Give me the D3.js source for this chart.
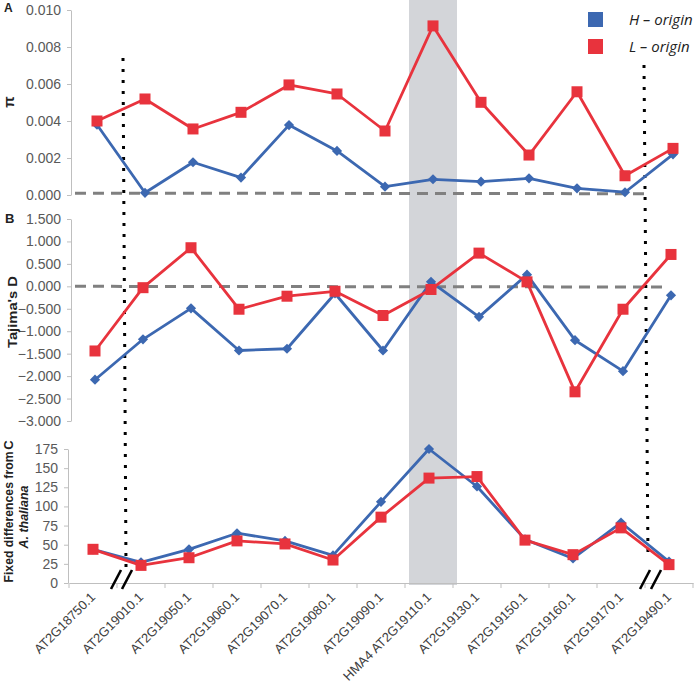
<!DOCTYPE html>
<html><head><meta charset="utf-8">
<script src="https://cdn.jsdelivr.net/npm/d3@7/dist/d3.min.js"></script>
<style>body{margin:0;background:#fff}svg{display:block}</style>
</head><body><svg id="c" width="694" height="682"></svg>
<script>
const categories = ["AT2G18750.1","AT2G19010.1","AT2G19050.1","AT2G19060.1","AT2G19070.1","AT2G19080.1","AT2G19090.1","HMA4 AT2G19110.1","AT2G19130.1","AT2G19150.1","AT2G19160.1","AT2G19170.1","AT2G19490.1"];
const piH = [0.0038,0.00012,0.00177,0.00094,0.00378,0.00238,0.00045,0.00085,0.00072,0.0009,0.00036,0.00015,0.0022];
const piL = [0.0040,0.00519,0.00357,0.00447,0.00595,0.00546,0.00346,0.00914,0.00501,0.00216,0.00558,0.00104,0.00252];
const tajH = [-2.08,-1.18,-0.49,-1.43,-1.39,-0.16,-1.43,0.10,-0.68,0.26,-1.20,-1.89,-0.20];
const tajL = [-1.44,-0.03,0.86,-0.51,-0.22,-0.11,-0.65,-0.07,0.74,0.10,-2.35,-0.51,0.71];
const fixH = [44,27,44,65,55,36,106,175,126,57,32,79,28];
const fixL = [44,23,33,55,51,30,86,137,139,56,37,72,24];
const piTicks = [0,0.002,0.004,0.006,0.008,0.010];
const tajTicks = [-3,-2.5,-2,-1.5,-1,-0.5,0,0.5,1,1.5];
const fixTicks = [0,25,50,75,100,125,150,175];
const seriesNames = ["H \u2013 origin","L \u2013 origin"];

const BLUE="#3c68b1", RED="#e8333d";
const svg = d3.select("#c");
const font = "Liberation Sans, Arial, sans-serif";

const xA = d3.scaleBand().domain(categories).range([73,697]);
const xB = d3.scaleBand().domain(categories).range([71,695]);
const xC = d3.scaleBand().domain(categories).range([69,693]);
const yA = d3.scaleLinear().domain([0,0.010]).range([195,10]);
const yB = d3.scaleLinear().domain([-3,1.5]).range([421,219]);
const yC = d3.scaleLinear().domain([0,175]).range([583,449]);
const bw = xA.bandwidth();
const cx = (x,c)=>x(c)+bw/2;

// grey band
const hma = categories[7];
svg.append("rect").attr("x",xA(hma)).attr("y",0).attr("width",bw).attr("height",585).attr("fill","#d3d5d9");

function yAxis(y, ticks, fmt, xpos){
  const g = svg.append("g").attr("transform",`translate(${xpos},0)`)
    .call(d3.axisLeft(y).tickValues(ticks).tickFormat(fmt).tickSize(4).tickSizeOuter(0).tickPadding(6));
  g.select(".domain").attr("stroke","#bfbfbf");
  g.selectAll(".tick line").attr("stroke","#bfbfbf");
  g.selectAll("text").attr("fill","#595959").style("font-family",font).style("font-size","14px");
}
yAxis(yA, piTicks, d3.format(".3f"), 71);
yAxis(yB, tajTicks, d3.format(".3f"), 71);
yAxis(yC, fixTicks, d3.format("d"), 68);

// x axis for C
const gx = svg.append("g").attr("transform","translate(0,583)")
  .call(d3.axisBottom(xC).tickSize(0).tickFormat(""));
gx.select(".domain").attr("stroke","#bfbfbf");
gx.selectAll(".tick").remove();
const bounds = categories.map(c=>xC(c)).concat([xC(categories[12])+bw]);
svg.append("g").selectAll("line").data(bounds).join("line")
  .attr("x1",d=>d).attr("x2",d=>d).attr("y1",583).attr("y2",588).attr("stroke","#bfbfbf");
svg.append("g").selectAll("text").data(categories).join("text")
  .attr("transform",c=>`translate(${cx(xC,c)+3},598) rotate(-45)`)
  .attr("text-anchor","end").attr("fill","#404040")
  .style("font-family",font).style("font-size","13px").text(d=>d);

// dashed reference lines
svg.append("line").attr("x1",75).attr("x2",645).attr("y1",yA(0.0001)).attr("y2",yA(0.00007))
  .attr("stroke","#808080").attr("stroke-width",3).attr("stroke-dasharray","11,7");
svg.append("line").attr("x1",75).attr("x2",668).attr("y1",yB(0)).attr("y2",yB(-0.015))
  .attr("stroke","#808080").attr("stroke-width",3).attr("stroke-dasharray","11,7");

// dotted vertical lines
function dotted(x1,y1,x2,y2){
  svg.append("line").attr("x1",x1).attr("y1",y1).attr("x2",x2).attr("y2",y2)
   .attr("stroke","#000").attr("stroke-width",3).attr("stroke-dasharray","3,8");
}
dotted(cx(xA,categories[1])-22,58,cx(xC,categories[1])-15,567);
dotted(cx(xA,categories[12])-29,65,cx(xC,categories[12])-21,557);

// break marks
function slash(x){
  svg.append("line").attr("x1",x).attr("y1",589).attr("x2",x+10).attr("y2",570)
    .attr("stroke","#000").attr("stroke-width",2.6);
}
slash(111); slash(122); slash(640); slash(651);

// series
function series(x,y,vals,color,marker){
  const line = d3.line().x((d,i)=>cx(x,categories[i])).y(d=>y(d));
  svg.append("path").datum(vals).attr("d",line).attr("fill","none")
    .attr("stroke",color).attr("stroke-width",2.8).attr("stroke-linejoin","round");
  const g = svg.append("g");
  if(marker==="sq"){
    g.selectAll("rect").data(vals).join("rect")
      .attr("x",(d,i)=>cx(x,categories[i])-5.5).attr("y",d=>y(d)-5.5)
      .attr("width",11).attr("height",11).attr("fill",color);
  } else {
    g.selectAll("path").data(vals).join("path")
      .attr("d",d3.symbol(d3.symbolSquare,52)())
      .attr("transform",(d,i)=>`translate(${cx(x,categories[i])},${y(d)}) rotate(45)`)
      .attr("fill",color);
  }
}
series(xA,yA,piH,BLUE,"dia"); series(xA,yA,piL,RED,"sq");
series(xB,yB,tajH,BLUE,"dia"); series(xB,yB,tajL,RED,"sq");
series(xC,yC,fixH,BLUE,"dia"); series(xC,yC,fixL,RED,"sq");

// legend
[BLUE,RED].forEach((col,i)=>{
  svg.append("rect").attr("x",588).attr("y",12+i*27).attr("width",15).attr("height",15).attr("fill",col);
  svg.append("text").attr("x",629).attr("y",25+i*27).attr("fill","#222")
    .style("font-family","Open Sans, sans-serif").style("font-style","italic").style("font-size","15px")
    .text(seriesNames[i]);
});

// titles
function rtext(t,x,y,size,len,italic){
  const e = svg.append("text").attr("transform",`translate(${x},${y}) rotate(-90)`).attr("text-anchor","middle")
    .attr("fill","#222").style("font-family",font).style("font-weight","bold").style("font-size",size+"px").text(t);
  if(italic) e.style("font-style","italic");
  if(len) e.attr("textLength",len).attr("lengthAdjust","spacingAndGlyphs");
  return e;
}
svg.append("text").attr("x",4).attr("y",12).attr("fill","#222").style("font-family",font)
  .style("font-weight","bold").style("font-size","12px").text("A");
svg.append("text").attr("x",5).attr("y",223).attr("fill","#222").style("font-family",font)
  .style("font-weight","bold").style("font-size","13px").text("B");
rtext("C",13,445,13);
rtext("\u03c0",14,102,15);
rtext("Tajima's D",17,312,13,72);
rtext("Fixed differences  from",13,517,13,131);
rtext("A. thaliana",28,517,13,63,true);
</script></body></html>
